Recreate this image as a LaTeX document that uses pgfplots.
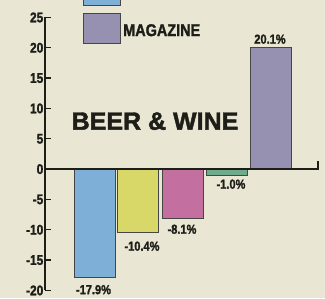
\documentclass[border=0pt]{standalone}
\usepackage{pgfplots}
\pgfplotsset{compat=1.18}
\usepackage{fontspec}
\setmainfont{Liberation Sans}
\newfontfamily\cond{Liberation Sans Bold}[FakeStretch=0.85, FakeBold=1.6]
\newfontfamily\heavy{Liberation Sans Bold}[FakeBold=1.8]
\usetikzlibrary{backgrounds}
\definecolor{cream}{RGB}{233,231,212}
\definecolor{cblue}{RGB}{125,175,215}
\definecolor{cyellow}{RGB}{216,216,104}
\definecolor{cpink}{RGB}{195,112,160}
\definecolor{cgreen}{RGB}{110,170,140}
\definecolor{cpurple}{RGB}{150,145,176}
\definecolor{edge}{RGB}{70,70,70}
\definecolor{ink}{RGB}{30,30,25}
\begin{document}
\begin{tikzpicture}[show background rectangle, inner frame sep=0pt,
  background rectangle/.style={fill=cream, draw=none}]
\begin{axis}[
  scale only axis, width=275pt, height=273pt,
  xmin=45, xmax=320, ymin=-20, ymax=25,
  axis x line=none, axis y line=left,
  axis line style={-, line width=1.5pt, ink},
  ytick={-20,-15,...,25},
  tick align=inside, major tick length=6pt,
  tick style={line width=1.3pt, ink},
  /pgf/number format/assume math mode=true,
  yticklabel style={font=\cond\fontsize{14}{14}\selectfont, text=ink, inner sep=1.5pt},
  clip=false,
  ybar, bar width=41, bar shift=0pt,
  nodes near coords={\pgfmathprintnumber[fixed,precision=1,fixed zerofill,assume math mode=true]{\pgfplotspointmeta}\%},
  every node near coord/.append style={font=\cond\fontsize{13}{13}\selectfont, text=ink, inner sep=1pt},
]
\path (axis cs:0,27.81) rectangle (axis cs:325,-21.31);
\addplot[fill=cblue, draw=edge, line width=0.8pt,
  every node near coord/.append style={anchor=north, yshift=-6pt, xshift=-1pt}]
  coordinates {(94.5,-17.9)};
\addplot[fill=cyellow, draw=edge, line width=0.8pt,
  every node near coord/.append style={anchor=north, yshift=-8pt, xshift=4.5pt}]
  coordinates {(137.5,-10.4)};
\addplot[fill=cpink, draw=edge, line width=0.8pt,
  every node near coord/.append style={anchor=north, yshift=-5pt, xshift=-1pt}]
  coordinates {(183,-8.1)};
\addplot[fill=cgreen, draw=edge, line width=0.8pt,
  every node near coord/.append style={anchor=north, yshift=-3pt, xshift=4pt}]
  coordinates {(227,-1.0)};
\addplot[fill=cpurple, draw=edge, line width=0.8pt,
  every node near coord/.append style={anchor=south, yshift=2pt, xshift=-1pt}]
  coordinates {(271,20.1)};
\draw[line width=1.5pt, ink] (axis cs:45,0) -- (axis cs:318,0) -- (axis cs:318,1.4);
% legend
\fill[cblue] (axis cs:83,27.81) rectangle (axis cs:120,26.98);
\draw[edge, line width=0.8pt] (axis cs:83,27.81) -- (axis cs:83,26.98) -- (axis cs:120,26.98) -- (axis cs:120,27.81);
\draw[fill=cpurple, draw=edge, line width=0.8pt] (axis cs:83,25.66) rectangle (axis cs:120,20.72);
\node[anchor=west, inner sep=0pt, text=ink, font=\cond\fontsize{17}{17}\selectfont] at (axis cs:123,22.9) {MAGAZINE};
\node[inner sep=0pt, text=ink, font=\heavy\fontsize{25}{25}\selectfont] at (axis cs:155,7.9) {BEER \& WINE};
\end{axis}
\end{tikzpicture}
\end{document}
